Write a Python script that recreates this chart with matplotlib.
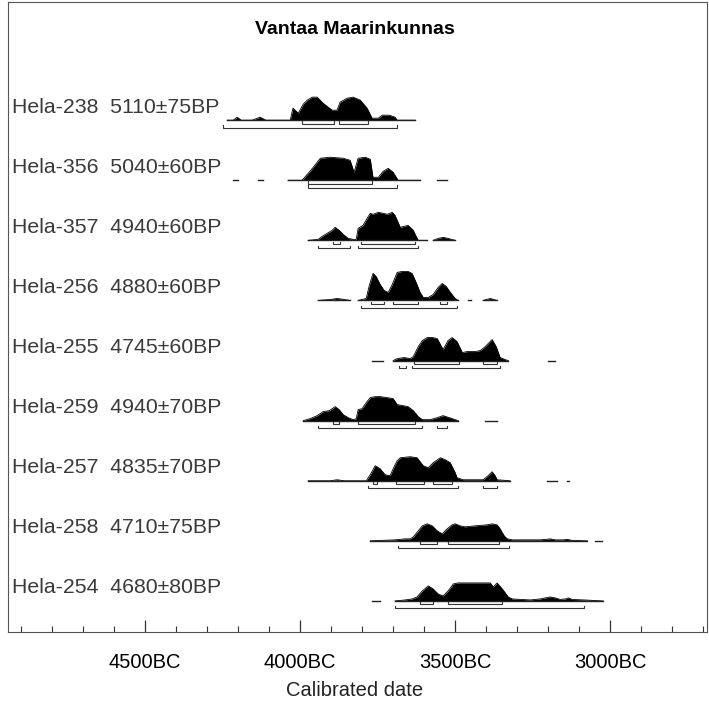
import matplotlib
matplotlib.use("Agg")
import matplotlib.pyplot as plt
from matplotlib.ticker import MultipleLocator, FuncFormatter

plt.rcParams["font.family"] = ["Liberation Sans", "DejaVu Sans"]

TITLE = "Vantaa Maarinkunnas"
XLABEL = "Calibrated date"

LAB_IDS = ["Hela-238", "Hela-356", "Hela-357", "Hela-256", "Hela-255",
           "Hela-259", "Hela-257", "Hela-258", "Hela-254"]
AGES = ["5110±75BP", "5040±60BP", "4940±60BP", "4880±60BP", "4745±60BP",
        "4940±70BP", "4835±70BP", "4710±75BP", "4680±80BP"]

# calibrated distributions: pieces of (year BC, relative probability)
HELA_238 = [
    [(4235, 0), (4216, 0), (4203, 3), (4190, 0), (4155, 0), (4129, 3), (4110, 0),
     (4039, 0), (4032, 0), (4023, 12), (4006, 7), (3990, 16), (3977, 20),
     (3961, 23), (3945, 23), (3926, 17), (3897, 10), (3881, 10), (3871, 18),
     (3848, 22), (3829, 23), (3806, 20), (3784, 12), (3768, 2), (3748, 2),
     (3735, 5), (3713, 5), (3694, 3), (3687, 0), (3629, 0)],
]
HELA_356 = [
    [(4216, 0), (4200, 0)],
    [(4135, 0), (4119, 0)],
    [(4039, 0), (3994, 0), (3968, 9), (3945, 18), (3935, 22), (3903, 23),
     (3861, 22), (3839, 20), (3826, 8), (3813, 22), (3790, 23), (3774, 21),
     (3765, 3), (3748, 3), (3732, 9), (3716, 12), (3700, 8), (3684, 0),
     (3613, 0)],
    [(3558, 0), (3526, 0)],
]
HELA_357 = [
    [(3974, 0), (3942, 1), (3929, 4), (3913, 7), (3897, 10), (3887, 13),
     (3874, 10), (3861, 6), (3845, 2), (3829, 1), (3819, 1), (3813, 12),
     (3797, 15), (3784, 22), (3774, 27), (3765, 26), (3748, 28), (3732, 27),
     (3719, 26), (3703, 28), (3694, 25), (3687, 20), (3677, 13), (3665, 14),
     (3652, 15), (3635, 10), (3626, 4), (3619, 0), (3590, 0)],
    [(3571, 0), (3555, 2), (3539, 3), (3523, 2), (3500, 0)],
]
HELA_256 = [
    [(3942, 0), (3903, 1), (3881, 2), (3858, 1), (3839, 0)],
    [(3813, 0), (3787, 2), (3777, 15), (3765, 27), (3755, 24), (3742, 16),
     (3729, 10), (3716, 8), (3703, 16), (3687, 28), (3671, 29), (3652, 29),
     (3639, 27), (3626, 18), (3613, 8), (3603, 3), (3587, 3), (3571, 6),
     (3555, 13), (3542, 17), (3529, 14), (3513, 7), (3500, 2), (3490, 0)],
    [(3458, 0), (3448, 0)],
    [(3410, 0), (3387, 2), (3365, 0)],
]
HELA_255 = [
    [(3768, 0), (3732, 0)],
    [(3700, 0), (3687, 2), (3665, 3), (3645, 2), (3635, 4), (3619, 14),
     (3606, 20), (3590, 23), (3574, 23), (3558, 22), (3539, 11), (3523, 20),
     (3510, 23), (3494, 19), (3477, 8), (3461, 9), (3435, 9), (3419, 10),
     (3403, 14), (3381, 21), (3368, 14), (3355, 3), (3339, 1), (3329, 0)],
    [(3200, 0), (3177, 0)],
]
HELA_259 = [
    [(3990, 0), (3968, 2), (3945, 5), (3926, 9), (3906, 10), (3887, 14),
     (3874, 11), (3861, 6), (3845, 3), (3829, 1), (3819, 2), (3813, 11),
     (3800, 12), (3787, 18), (3774, 23), (3758, 24), (3742, 24), (3719, 23),
     (3700, 22), (3687, 16), (3668, 15), (3652, 14), (3635, 10), (3619, 4),
     (3606, 1), (3581, 1), (3558, 3), (3539, 5), (3519, 3), (3500, 1),
     (3490, 0)],
    [(3403, 0), (3365, 0)],
]
HELA_257 = [
    [(3974, 0), (3903, 0), (3881, 1), (3858, 0), (3787, 0), (3774, 6),
     (3758, 15), (3742, 12), (3726, 6), (3710, 5), (3697, 14), (3687, 20),
     (3677, 23), (3645, 24), (3623, 23), (3603, 15), (3587, 13), (3571, 18),
     (3548, 23), (3532, 21), (3516, 18), (3500, 8), (3494, 3), (3474, 1),
     (3410, 1), (3394, 5), (3381, 9), (3371, 5), (3365, 1), (3323, 0)],
    [(3203, 0), (3171, 0)],
    [(3139, 0), (3132, 0)],
]
HELA_258 = [
    [(3774, 0), (3694, 1), (3661, 2), (3645, 2), (3635, 4), (3619, 10),
     (3606, 15), (3590, 17), (3574, 15), (3558, 10), (3542, 7), (3526, 12),
     (3510, 16), (3500, 17), (3484, 15), (3468, 14), (3435, 15), (3397, 16),
     (3381, 17), (3365, 16), (3355, 12), (3342, 5), (3332, 2), (3316, 1),
     (3226, 1), (3206, 1.5), (3194, 2), (3177, 1), (3152, 1), (3139, 1.5),
     (3123, 0.5), (3074, 0)],
    [(3048, 0), (3026, 0)],
]
HELA_254 = [
    [(3768, 0), (3742, 0)],
    [(3694, 0), (3661, 1), (3639, 2), (3623, 4), (3606, 10), (3587, 15),
     (3571, 12), (3555, 7), (3539, 5), (3523, 10), (3506, 17), (3490, 18),
     (3452, 18), (3403, 18), (3387, 18), (3377, 14), (3365, 18), (3348, 12),
     (3329, 4), (3316, 2), (3258, 1), (3226, 2), (3210, 3), (3194, 4),
     (3177, 3), (3161, 1.5), (3145, 2), (3135, 3), (3123, 1.5), (3084, 1),
     (3023, 0)],
]
PROFILES = [HELA_238, HELA_356, HELA_357, HELA_256, HELA_255,
            HELA_259, HELA_257, HELA_258, HELA_254]

# 68.2% and 95.4% ranges (year BC from, to)
RANGE_68 = [
    [(3994, 3890), (3874, 3781)],
    [(3974, 3768)],
    [(3894, 3871), (3803, 3629)],
    [(3771, 3729), (3700, 3619), (3548, 3526)],
    [(3632, 3487), (3410, 3365)],
    [(3894, 3874), (3813, 3629)],
    [(3765, 3752), (3690, 3600), (3571, 3510)],
    [(3613, 3558), (3523, 3358)],
    [(3613, 3571), (3523, 3348)],
]
RANGE_95 = [
    [(4248, 3687)],
    [(3974, 3687)],
    [(3942, 3839), (3813, 3619)],
    [(3803, 3494)],
    [(3681, 3658), (3639, 3355)],
    [(3942, 3606), (3558, 3526)],
    [(3781, 3490), (3410, 3365)],
    [(3684, 3326)],
    [(3694, 3084)],
]

ROW = 60  # vertical spacing between dates

fig = plt.figure(figsize=(7.09, 7.08), dpi=100)
ax = fig.add_axes([8 / 709, 1 - 632 / 708, 699 / 709, 630 / 708])


def bracket(ax, x0, x1, y, tick=2.3):
    ax.plot([x0, x0, x1, x1], [y + tick, y, y, y + tick],
            color="#333333", lw=0.8, solid_joinstyle="miter")


for i, pieces in enumerate(PROFILES):
    base = -i * ROW
    for piece in pieces:
        xs = [p[0] for p in piece]
        hs = [base + p[1] for p in piece]
        ax.fill_between(xs, base, hs, color="black", lw=0)
        ax.plot(xs, hs, color="black", lw=0.6)
        ax.plot([xs[0], xs[-1]], [base, base], color="#222222", lw=1.0)
    for x0, x1 in RANGE_68[i]:
        bracket(ax, x0, x1, base - 3.5)
    for x0, x1 in RANGE_95[i]:
        bracket(ax, x0, x1, base - 7.5)
    ax.text(0.006, base + 13, f"{LAB_IDS[i]}  {AGES[i]}",
            transform=ax.get_yaxis_transform(), ha="left", va="center",
            fontsize=15.3, color="#3a3a3a")

ax.set_xlim(4942, 2688)
ax.set_ylim(-8 * ROW - 31, 118)
ax.set_yticks([])
ax.xaxis.set_major_locator(MultipleLocator(500))
ax.xaxis.set_minor_locator(MultipleLocator(100))
ax.xaxis.set_major_formatter(FuncFormatter(lambda v, p: f"{int(v)}BC"))
ax.tick_params(axis="x", which="major", direction="in", length=9,
               width=0.9, color="#333333", pad=15, labelsize=14.5)
ax.tick_params(axis="x", which="minor", direction="in", length=4.5,
               width=0.8, color="#333333")
for s in ax.spines.values():
    s.set_color("#555555")
    s.set_linewidth(0.8)

fig.text(0.5, 1 - 29 / 708, TITLE, ha="center", va="center", fontsize=14,
         fontweight="bold", color="black")
fig.text(0.5, 1 - 690 / 708, XLABEL, ha="center", va="center", fontsize=14.5,
         color="#222222")

fig.savefig("out.png", dpi=100)
